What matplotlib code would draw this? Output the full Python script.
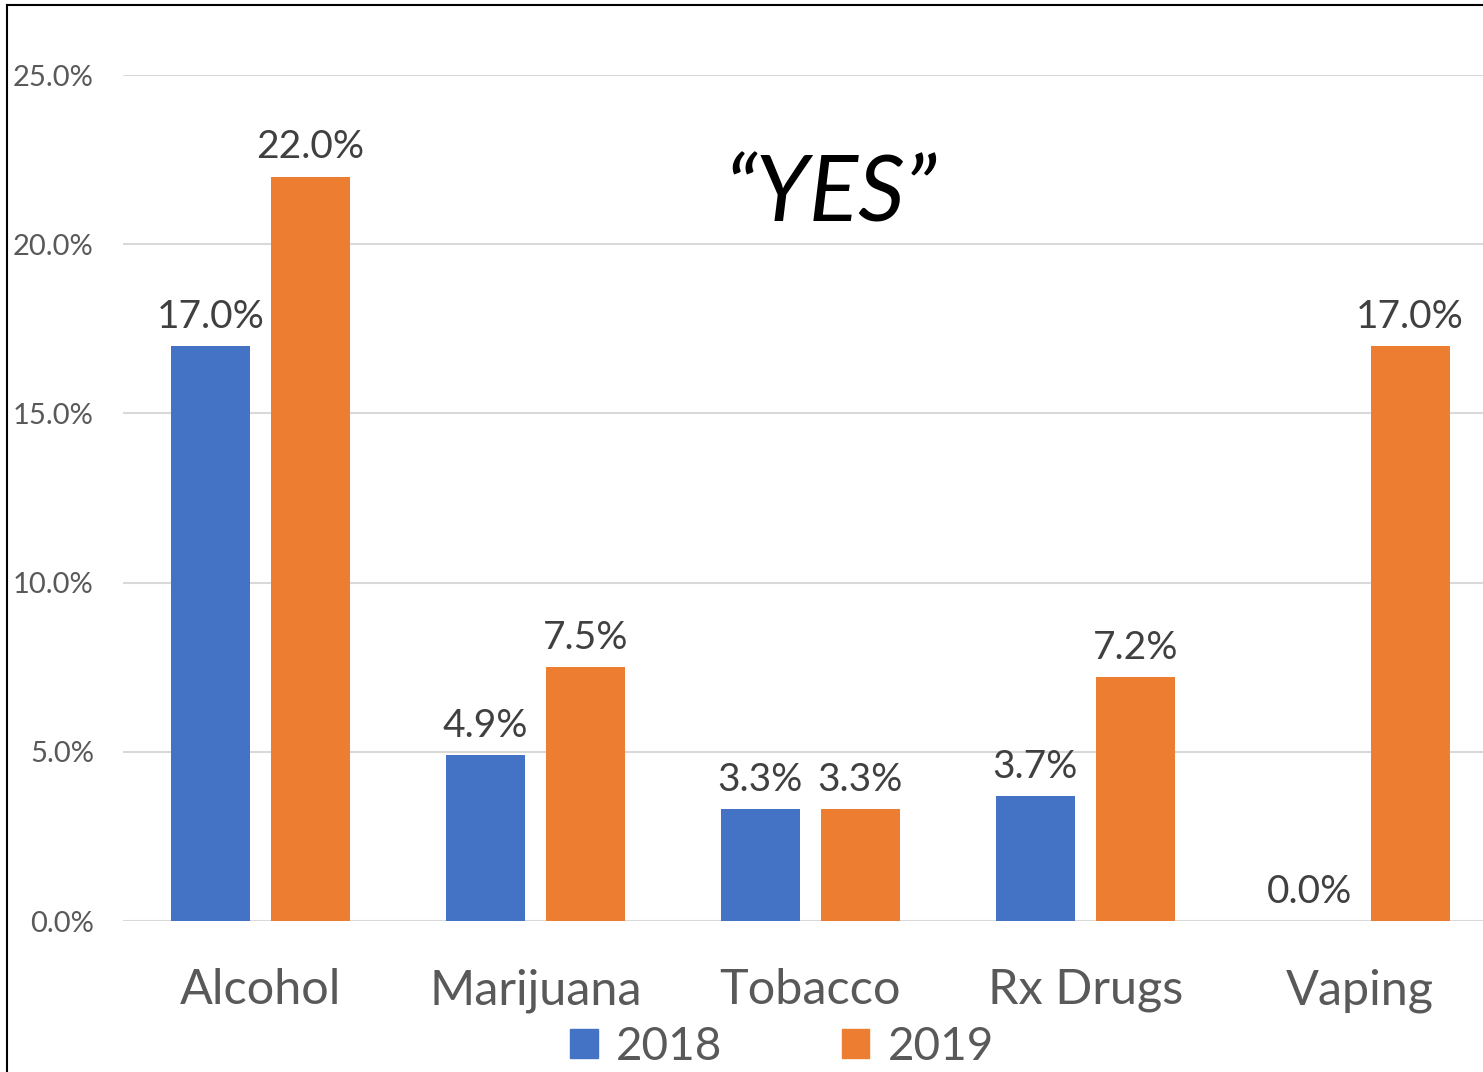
import matplotlib.pyplot as plt
import numpy as np
from matplotlib.patches import Patch
from matplotlib.lines import Line2D
from matplotlib.ticker import PercentFormatter

plt.rcParams['font.family'] = ['Lato', 'DejaVu Sans']

categories = ['Alcohol', 'Marijuana', 'Tobacco', 'Rx Drugs', 'Vaping']
years = ['2018', '2019']
vals2018 = [17.0, 4.9, 3.3, 3.7, 0.0]
vals2019 = [22.0, 7.5, 3.3, 7.2, 17.0]
yticks = [0, 5, 10, 15, 20, 25]

blue = '#4472C4'
orange = '#ED7D31'
grey_txt = '#595959'
lab_txt = '#404040'

W, H = 1483, 1072
fig = plt.figure(figsize=(W/100, H/100), dpi=100)
ax = fig.add_axes([123/W, 1-921/H, (W-123)/W, (921-75)/H])

x = np.arange(len(categories))
bw = 0.287
off = 0.182
b1 = ax.bar(x-off, vals2018, bw, color=blue, zorder=3)
b2 = ax.bar(x+off, vals2019, bw, color=orange, zorder=3)

for bars, vals in [(b1, vals2018), (b2, vals2019)]:
    for r, v in zip(bars, vals):
        ax.annotate('%.1f%%' % v, (r.get_x()+r.get_width()/2, v),
                    xytext=(0, 8), textcoords='offset points',
                    ha='center', va='bottom', fontsize=28, color=lab_txt)

ax.set_xlim(-0.5, (W-260)/275)
ax.set_ylim(0, 25)
ax.set_yticks(yticks)
ax.yaxis.set_major_formatter(PercentFormatter(decimals=1))
ax.set_xticks(x)
ax.set_xticklabels(categories)
ax.tick_params(axis='y', length=0, pad=21, labelsize=21, labelcolor=grey_txt)
ax.tick_params(axis='x', length=0, pad=34, labelsize=35, labelcolor=grey_txt)
ax.grid(axis='y', color='#D9D9D9', linewidth=1.5, zorder=0)
for s in ax.spines.values():
    s.set_visible(False)

ax.text(0.52, 0.857, '\u201cYES\u201d', transform=ax.transAxes, fontsize=66,
        style='italic', color='black', ha='center', va='center')

handles = [Patch(color=blue), Patch(color=orange)]
fig.legend(handles, years, loc='center', bbox_to_anchor=(782/W, 1-1047/H),
           ncol=2, frameon=False, fontsize=33, labelcolor=grey_txt,
           handlelength=0.6, handleheight=0.6, handletextpad=0.4,
           columnspacing=2.6)

# chart border (only left/top visible in the crop)
fig.add_artist(Line2D([7/W, 7/W], [0, 1-5/H], color='black', lw=1.5, transform=fig.transFigure))
fig.add_artist(Line2D([7/W, 1], [1-5/H, 1-5/H], color='black', lw=1.5, transform=fig.transFigure))

fig.savefig('out.png', dpi=100)
